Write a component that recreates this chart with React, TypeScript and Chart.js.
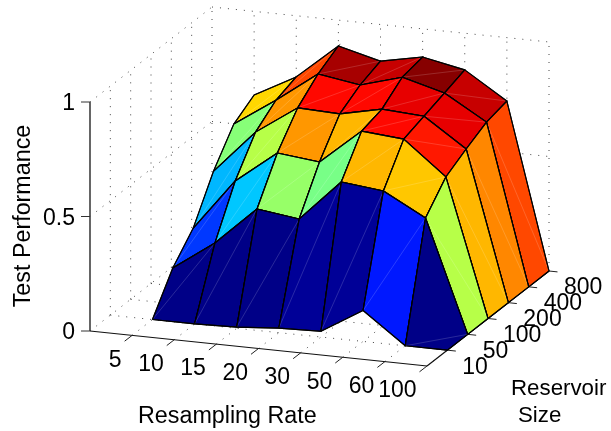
import React, { useEffect, useRef } from "react";
import { Chart, registerables } from "chart.js";

Chart.register(...registerables);

const resamplingRates = ["5", "10", "15", "20", "30", "50", "60", "100"];
const reservoirSizes = ["10", "50", "100", "200", "400", "800"];
const zTicks = [0, 0.5, 1];
const zTickLabels = ["0", "0.5", "1"];

// Test performance per reservoir size (rows) and resampling rate (columns)
const perf10 = [0, 0, 0.005, 0.02, 0.025, 0.135, 0, 0];
const perf50 = [0.156, 0.284, 0.452, 0.427, 0.608, 0.588, 0.489, 0];
const perf100 = [0.26, 0.486, 0.627, 0.607, 0.761, 0.745, 0.599, 0];
const perf200 = [0.44, 0.63, 0.755, 0.748, 0.788, 0.776, 0.652, 0];
const perf400 = [0.577, 0.7, 0.834, 0.805, 0.858, 0.808, 0.7, 0];
const perf800 = [0.635, 0.733, 0.887, 0.84, 0.877, 0.84, 0.723, 0];
const surface = [perf10, perf50, perf100, perf200, perf400, perf800];

const W = 611;
const H = 431;
const COLOR_MAX = 0.87;
const fontOf = (size: number) => `${size}px "Liberation Sans", Arial, sans-serif`;
const NX = resamplingRates.length;
const NY = reservoirSizes.length;

// Parallel projection of the 3D box onto the hidden 2D scales
const project = (ix: number, iy: number, z: number) => ({
  x: 90 + (ix * 337) / NX + (iy * 122) / NY,
  y: 331 + (ix * 35) / NX - (iy * 95) / NY - z * 229,
});

const jet = (t: number) => {
  const q = Math.min(63, Math.max(0, Math.floor(t * 64)));
  const v = (q + 0.5) / 64;
  const ch = (c: number) => Math.round(255 * Math.max(0, Math.min(1, 1.5 - Math.abs(4 * v - c))));
  return `rgb(${ch(3)},${ch(2)},${ch(1)})`;
};

const lineSet = (pts: { x: number; y: number }[], color: string, width: number, dash: number[] = []) => ({
  type: "scatter" as const,
  data: pts,
  showLine: true,
  fill: false,
  tension: 0,
  pointRadius: 0,
  borderColor: color,
  borderWidth: width,
  borderDash: dash,
  borderCapStyle: "butt" as const,
  clip: false as const,
});

const buildDatasets = () => {
  const out: any[] = [];
  const dash = [1, 7];
  const grid = "#444444";
  const dotted = (a: [number, number, number], b: [number, number, number]) =>
    out.push(lineSet([project(...a), project(...b)], grid, 1, dash));

  // Back walls and floor grid
  for (let i = 1; i <= NY; i++) {
    dotted([0, i, 0], [0, i, 1]);
    dotted([0, i, 0], [NX, i, 0]);
  }
  for (let i = 1; i <= NX; i++) {
    dotted([i, NY, 0], [i, NY, 1]);
    dotted([i, 0, 0], [i, NY, 0]);
  }
  for (const z of zTicks) {
    dotted([0, 0, z], [0, NY, z]);
    dotted([0, NY, z], [NX, NY, z]);
  }

  // Axes and ticks
  out.push(lineSet([project(0, 0, 0), project(0, 0, 1)], "#555555", 1.8));
  out.push(lineSet([project(0, 0, 0), project(NX, 0, 0)], "#111111", 1.2));
  out.push(lineSet([project(NX, 0, 0), project(NX, NY, 0)], "#111111", 1.2));
  for (const z of zTicks) {
    const p = project(0, 0, z);
    out.push(lineSet([p, { x: p.x - 9, y: p.y }], "#333333", 1));
  }
  for (let i = 1; i <= NX; i++) {
    const p = project(i, 0, 0);
    out.push(lineSet([p, { x: p.x - 7.5, y: p.y + 5.8 }], "#222222", 1));
  }
  for (let i = 1; i <= NY; i++) {
    const p = project(NX, i, 0);
    out.push(lineSet([p, { x: p.x + 8.5, y: p.y + 0.9 }], "#222222", 1));
  }

  // Surface facets, back to front
  for (let r = NY - 2; r >= 0; r--) {
    for (let c = 0; c < NX - 1; c++) {
      const v = (cc: number, rr: number) => project(cc + 1, rr + 1, surface[rr][cc]);
      const a = v(c, r);
      const b = v(c + 1, r);
      const d = v(c + 1, r + 1);
      const e = v(c, r + 1);
      out.push({
        ...lineSet([a, b, d, e, a], "rgba(0,0,0,0.95)", 1.1),
        fill: "shape",
        backgroundColor: jet(surface[r][c] / COLOR_MAX),
        borderJoinStyle: "round",
      });
      out.push(lineSet([a, d], "rgba(255,255,255,0.16)", 1));
      out.push(lineSet([a, b, d, e, a], "rgba(0,0,0,0.95)", 1.1));
    }
  }
  // First in the list is painted first
  return out.map((ds, k) => ({ ...ds, order: -k }));
};

const textPlugin = {
  id: "boxLabels",
  afterDraw(chart: any) {
    const { ctx, scales } = chart;
    const put = (t: string, x: number, y: number, align: CanvasTextAlign, size: number, rot = 0) => {
      ctx.save();
      ctx.translate(scales.x.getPixelForValue(x), scales.y.getPixelForValue(y));
      ctx.rotate(rot);
      ctx.textAlign = align;
      ctx.textBaseline = "middle";
      ctx.fillStyle = "#000";
      ctx.font = fontOf(size);
      ctx.fillText(t, 0, 0);
      ctx.restore();
    };
    resamplingRates.forEach((t, i) => {
      const p = project(i + 1, 0, 0);
      put(t, p.x - 10.5, p.y + 25, "right", 23);
    });
    reservoirSizes.forEach((t, i) => {
      const p = project(NX, i + 1, 0);
      put(t, p.x + 15, p.y + 17, "left", 23);
    });
    zTicks.forEach((z, i) => {
      const p = project(0, 0, z);
      put(zTickLabels[i], p.x - 15, p.y + 2, "right", 23);
    });
    put("Resampling Rate", 138, 417, "left", 23.3);
    put("Reservoir", 511, 389, "left", 22.3);
    put("Size", 518, 416, "left", 22.3);
    put("Test Performance", 24, 216, "center", 23.3, -Math.PI / 2);
  },
};

export default function App() {
  const ref = useRef<HTMLCanvasElement>(null);
  useEffect(() => {
    const chart = new Chart(ref.current as HTMLCanvasElement, {
      type: "scatter",
      data: { datasets: buildDatasets() as any },
      options: {
        responsive: false,
        animation: false,
        devicePixelRatio: 1,
        layout: { padding: 0 },
        plugins: { legend: { display: false }, tooltip: { enabled: false }, title: { display: false } },
        scales: {
          x: { type: "linear", min: 0, max: W, display: false },
          y: { type: "linear", min: 0, max: H, reverse: true, display: false },
        },
      },
      plugins: [textPlugin],
    });
    return () => chart.destroy();
  }, []);
  return (
    <canvas
      ref={ref}
      width={W}
      height={H}
      style={{ position: "absolute", left: 0, top: 0, width: W, height: H, display: "block" }}
    />
  );
}
